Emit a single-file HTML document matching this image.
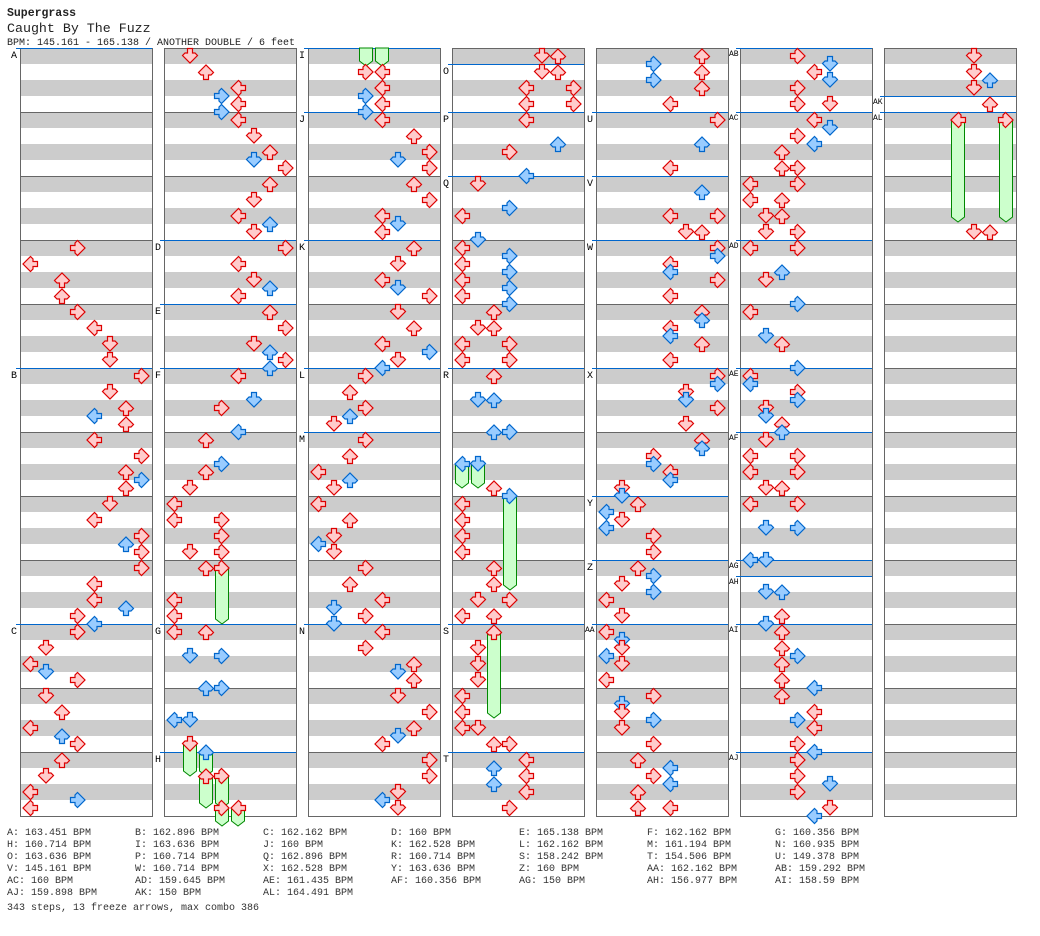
<!DOCTYPE html>
<html><head><meta charset="utf-8"><style>
html,body{margin:0;padding:0;background:#fff;}
svg{display:block;}
.t{font-family:"Liberation Mono",monospace;fill:#222;}
.lb{font-family:"Liberation Mono",monospace;font-size:10px;fill:#000;}
.lb2{font-family:"Liberation Mono",monospace;font-size:8px;fill:#000;}
.bp{font-family:"Liberation Mono",monospace;font-size:10px;fill:#333;}
</style></head><body>
<svg id="s" width="1040" height="936" viewBox="0 0 1040 936" xmlns="http://www.w3.org/2000/svg">
<g id="bg"></g>
<g id="fz"></g>
<g id="ar"></g>
<text class="t" x="7" y="16" font-size="11.5" font-weight="bold">Supergrass</text>
<text class="t" x="7" y="32" font-size="13.3">Caught By The Fuzz</text>
<text class="t" x="7" y="45" font-size="10">BPM: 145.161 - 165.138 / ANOTHER DOUBLE / 6 feet</text>
<g>
<text class="lb" x="11" y="58">A</text>
<text class="lb" x="11" y="378">B</text>
<text class="lb" x="11" y="634">C</text>
<text class="lb" x="155" y="250">D</text>
<text class="lb" x="155" y="314">E</text>
<text class="lb" x="155" y="378">F</text>
<text class="lb" x="155" y="634">G</text>
<text class="lb" x="155" y="762">H</text>
<text class="lb" x="299" y="58">I</text>
<text class="lb" x="299" y="122">J</text>
<text class="lb" x="299" y="250">K</text>
<text class="lb" x="299" y="378">L</text>
<text class="lb" x="299" y="442">M</text>
<text class="lb" x="299" y="634">N</text>
<text class="lb" x="443" y="74">O</text>
<text class="lb" x="443" y="122">P</text>
<text class="lb" x="443" y="186">Q</text>
<text class="lb" x="443" y="378">R</text>
<text class="lb" x="443" y="634">S</text>
<text class="lb" x="443" y="762">T</text>
<text class="lb" x="587" y="122">U</text>
<text class="lb" x="587" y="186">V</text>
<text class="lb" x="587" y="250">W</text>
<text class="lb" x="587" y="378">X</text>
<text class="lb" x="587" y="506">Y</text>
<text class="lb" x="587" y="570">Z</text>
<text class="lb2" x="585" y="632">AA</text>
<text class="lb2" x="729" y="56">AB</text>
<text class="lb2" x="729" y="120">AC</text>
<text class="lb2" x="729" y="248">AD</text>
<text class="lb2" x="729" y="376">AE</text>
<text class="lb2" x="729" y="440">AF</text>
<text class="lb2" x="729" y="568">AG</text>
<text class="lb2" x="729" y="584">AH</text>
<text class="lb2" x="729" y="632">AI</text>
<text class="lb2" x="729" y="760">AJ</text>
<text class="lb2" x="873" y="104">AK</text>
<text class="lb2" x="873" y="120">AL</text>
</g>
<g class="bp">
<text x="7" y="835">A: 163.451 BPM</text><text x="135" y="835">B: 162.896 BPM</text><text x="263" y="835">C: 162.162 BPM</text><text x="391" y="835">D: 160 BPM</text><text x="519" y="835">E: 165.138 BPM</text><text x="647" y="835">F: 162.162 BPM</text><text x="775" y="835">G: 160.356 BPM</text>
<text x="7" y="847">H: 160.714 BPM</text><text x="135" y="847">I: 163.636 BPM</text><text x="263" y="847">J: 160 BPM</text><text x="391" y="847">K: 162.528 BPM</text><text x="519" y="847">L: 162.162 BPM</text><text x="647" y="847">M: 161.194 BPM</text><text x="775" y="847">N: 160.935 BPM</text>
<text x="7" y="859">O: 163.636 BPM</text><text x="135" y="859">P: 160.714 BPM</text><text x="263" y="859">Q: 162.896 BPM</text><text x="391" y="859">R: 160.714 BPM</text><text x="519" y="859">S: 158.242 BPM</text><text x="647" y="859">T: 154.506 BPM</text><text x="775" y="859">U: 149.378 BPM</text>
<text x="7" y="871">V: 145.161 BPM</text><text x="135" y="871">W: 160.714 BPM</text><text x="263" y="871">X: 162.528 BPM</text><text x="391" y="871">Y: 163.636 BPM</text><text x="519" y="871">Z: 160 BPM</text><text x="647" y="871">AA: 162.162 BPM</text><text x="775" y="871">AB: 159.292 BPM</text>
<text x="7" y="883">AC: 160 BPM</text><text x="135" y="883">AD: 159.645 BPM</text><text x="263" y="883">AE: 161.435 BPM</text><text x="391" y="883">AF: 160.356 BPM</text><text x="519" y="883">AG: 150 BPM</text><text x="647" y="883">AH: 156.977 BPM</text><text x="775" y="883">AI: 158.59 BPM</text>
<text x="7" y="895">AJ: 159.898 BPM</text><text x="135" y="895">AK: 150 BPM</text><text x="263" y="895">AL: 164.491 BPM</text>
<text x="7" y="910">343 steps, 13 freeze arrows, max combo 386</text>
</g>
</svg>
<script>
var NS="http://www.w3.org/2000/svg";
function el(p,t,a){var e=document.createElementNS(NS,t);for(var k in a)e.setAttribute(k,a[k]);p.appendChild(e);return e;}
var X=[20,164,308,452,596,740,884];
var bg=document.getElementById('bg'),fz=document.getElementById('fz'),ar=document.getElementById('ar');
var sec=[[48,368,624],[240,304,368,624,752],[48,112,240,368,432,624],[64,112,176,368,624,752],[112,176,240,368,496,560,624],[48,112,240,368,432,560,576,624,752],[96,112]];
X.forEach(function(x,ci){
 el(bg,'rect',{x:x,y:48,width:132,height:768,fill:'#fff'});
 for(var y=48;y<816;y+=32)el(bg,'rect',{x:x,y:y,width:132,height:16,fill:'#ccc'});
 for(var y=112;y<816;y+=64)el(bg,'rect',{x:x,y:y,width:132,height:1,fill:'#666'});
 el(bg,'rect',{x:x+0.5,y:48.5,width:132,height:768,fill:'none',stroke:'#666','stroke-width':1});
 sec[ci].forEach(function(y){el(bg,'rect',{x:x-4,y:y,width:136,height:1,fill:'#0066cc'});});
});
var D={
0:"248,3,r;264,0,r;280,2,r;296,2,r;312,3,r;328,4,r;344,5,r;360,5,r;376,7,r;392,5,r;408,6,r;416,4,b;424,6,r;440,4,r;456,7,r;472,6,r;480,7,b;488,6,r;504,5,r;520,4,r;536,7,r;544,6,b;552,7,r;568,7,r;584,4,r;600,4,r;608,6,b;616,3,r;624,4,b;632,3,r;648,1,r;664,0,r;672,1,b;680,3,r;696,1,r;712,2,r;728,0,r;736,2,b;744,3,r;760,2,r;776,1,r;792,0,r;800,3,b;808,0,r",
1:"56,1,r;72,2,r;88,4,r;96,3,b;104,4,r;112,3,b;120,4,r;136,5,r;152,6,r;160,5,b;168,7,r;184,6,r;200,5,r;216,4,r;224,6,b;232,5,r;248,7,r;264,4,r;280,5,r;288,6,b;296,4,r;312,6,r;328,7,r;344,5,r;352,6,b;360,7,r;368,6,b;376,4,r;400,5,b;408,3,r;432,4,b;440,2,r;464,3,b;472,2,r;488,1,r;504,0,r;520,0,r;520,3,r;536,3,r;552,1,r;552,3,r;568,2,r;568,3,r;600,0,r;616,0,r;632,0,r;632,2,r;656,1,b;656,3,b;688,2,b;688,3,b;720,0,b;720,1,b;744,1,r;752,2,b;776,2,r;776,3,r;808,3,r;808,4,r",
2:"72,3,r;72,4,r;88,4,r;96,3,b;104,4,r;112,3,b;120,4,r;136,6,r;152,7,r;160,5,b;168,7,r;184,6,r;200,7,r;216,4,r;224,5,b;232,4,r;248,6,r;264,5,r;280,4,r;288,5,b;296,7,r;312,5,r;328,6,r;344,4,r;352,7,b;360,5,r;368,4,b;376,3,r;392,2,r;408,3,r;416,2,b;424,1,r;440,3,r;456,2,r;472,0,r;480,2,b;488,1,r;504,0,r;520,2,r;536,1,r;544,0,b;552,1,r;568,3,r;584,2,r;600,4,r;608,1,b;616,3,r;624,1,b;632,4,r;648,3,r;664,6,r;672,5,b;680,6,r;696,5,r;712,7,r;728,6,r;736,5,b;744,4,r;760,7,r;776,7,r;792,5,r;800,4,b;808,5,r",
3:"56,5,r;56,6,r;72,5,r;72,6,r;88,4,r;88,7,r;104,4,r;104,7,r;120,4,r;144,6,b;152,3,r;176,4,b;184,1,r;208,3,b;216,0,r;240,1,b;248,0,r;256,3,b;264,0,r;272,3,b;280,0,r;288,3,b;296,0,r;304,3,b;312,2,r;328,1,r;328,2,r;344,0,r;344,3,r;360,0,r;360,3,r;376,2,r;400,1,b;400,2,b;432,2,b;432,3,b;464,0,b;464,1,b;488,2,r;496,3,b;504,0,r;520,0,r;536,0,r;552,0,r;568,2,r;584,2,r;600,1,r;600,3,r;616,0,r;616,2,r;632,2,r;648,1,r;664,1,r;680,1,r;696,0,r;712,0,r;728,0,r;728,1,r;744,2,r;744,3,r;760,4,r;768,2,b;776,4,r;784,2,b;792,4,r;808,3,r",
4:"56,6,r;64,3,b;72,6,r;80,3,b;88,6,r;104,4,r;120,7,r;144,6,b;168,4,r;192,6,b;216,4,r;216,7,r;232,5,r;232,6,r;248,7,r;256,7,b;264,4,r;272,4,b;280,7,r;296,4,r;312,6,r;320,6,b;328,4,r;336,4,b;344,6,r;360,4,r;376,7,r;384,7,b;392,5,r;400,5,b;408,7,r;424,5,r;440,6,r;448,6,b;456,3,r;464,3,b;472,4,r;480,4,b;488,1,r;496,1,b;504,2,r;512,0,b;520,1,r;528,0,b;536,3,r;552,3,r;568,2,r;576,3,b;584,1,r;592,3,b;600,0,r;616,1,r;632,0,r;640,1,b;648,1,r;656,0,b;664,1,r;680,0,r;696,3,r;704,1,b;712,1,r;720,3,b;728,1,r;744,3,r;760,2,r;768,4,b;776,3,r;784,4,b;792,2,r;808,2,r;808,4,r",
5:"56,3,r;64,5,b;72,4,r;80,5,b;88,3,r;104,3,r;104,5,r;120,4,r;128,5,b;136,3,r;144,4,b;152,2,r;168,2,r;168,3,r;184,0,r;184,3,r;200,0,r;200,2,r;216,1,r;216,2,r;232,1,r;232,3,r;248,0,r;248,3,r;272,2,b;280,1,r;304,3,b;312,0,r;336,1,b;344,2,r;368,3,b;376,0,r;384,0,b;392,3,r;400,3,b;408,1,r;416,1,b;424,2,r;432,2,b;440,1,r;456,0,r;456,3,r;472,0,r;472,3,r;488,1,r;488,2,r;504,0,r;504,3,r;528,1,b;528,3,b;560,0,b;560,1,b;592,1,b;592,2,b;616,2,r;624,1,b;632,2,r;648,2,r;656,3,b;664,2,r;680,2,r;688,4,b;696,2,r;712,4,r;720,3,b;728,4,r;744,3,r;752,4,b;760,3,r;776,3,r;784,5,b;792,3,r;808,5,r;816,4,b",
6:"56,5,r;72,5,r;80,6,b;88,5,r;104,6,r;120,4,r;120,7,r;232,5,r;232,6,r"
};
var F={1:[[568,3,624],[744,1,776],[752,2,776],[776,2,808],[776,3,808],[808,3,826],[808,4,826]],2:[[48,3,66],[48,4,66]],3:[[464,0,488],[464,1,488],[496,3,590],[632,2,718]],6:[[120,4,222],[120,7,222]]};
for(var c in F)F[c].forEach(function(f){
 var cx=X[c]+10+16*f[1],y0=f[0],y1=f[2];
 el(fz,'path',{d:'M'+(cx-6.5)+','+y0+' L'+(cx+6.5)+','+y0+' L'+(cx+6.5)+','+(y1-5)+' L'+cx+','+y1+' L'+(cx-6.5)+','+(y1-5)+' Z',fill:'#ccffcc',stroke:'#008800','stroke-width':1});
});
var shape="-2.5,-7.5 2.5,-7.5 2.5,-3 5,-3 7.5,-0.5 0,7 -7.5,-0.5 -5,-3 -2.5,-3";
var rot=[90,0,180,-90];
for(var c in D)D[c].split(';').forEach(function(s){
 var p=s.split(','),y=+p[0],l=+p[1],col=p[2];
 var cx=X[c]+10+16*l;
 el(ar,'polygon',{points:shape,transform:'translate('+cx+','+y+') rotate('+rot[l%4]+')',fill:col=='r'?'#ffcccc':'#99ccff',stroke:col=='r'?'#dd0000':'#0066cc','stroke-width':1.2});
});
</script>
</body></html>
